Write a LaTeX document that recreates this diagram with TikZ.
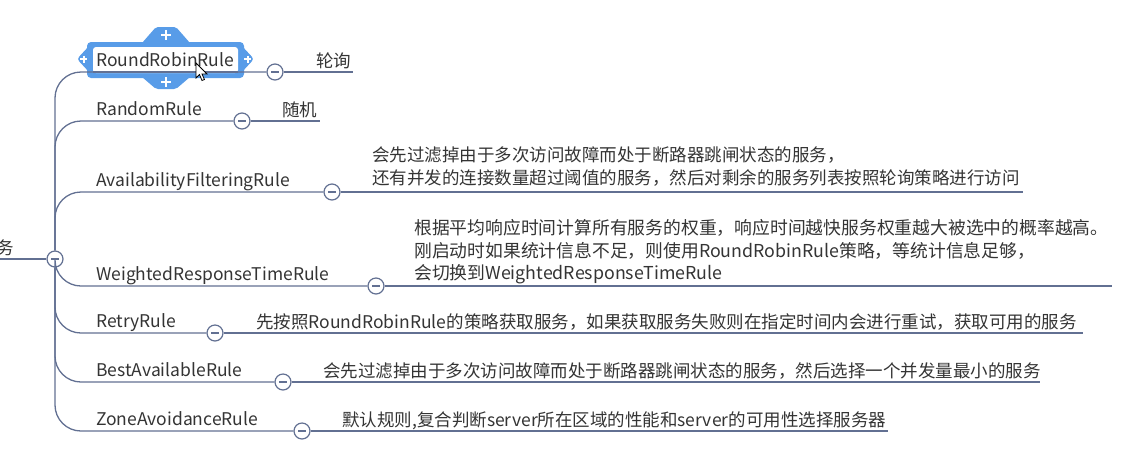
\documentclass[tikz,border=0pt]{standalone}
\usepackage{fontspec}
\setmainfont{Noto Sans CJK SC}
\usetikzlibrary{positioning}

\definecolor{linec}{RGB}{98,112,146}
\definecolor{txtc}{RGB}{52,52,52}
\definecolor{selc}{RGB}{88,156,232}

\newcommand{\rulefont}{\fontsize{17.5}{20}\selectfont}
\newcommand{\descfont}{\fontsize{17.5}{22.5}\selectfont}

\tikzset{
  branch/.style={linec, line width=1.3pt},
  rulename/.style={anchor=base west, inner sep=0pt, text=txtc, font=\rulefont},
  desc/.style={anchor=base west, inner sep=0pt, text=txtc, align=left, font=\descfont},
  collapse/.style={circle, draw=linec, fill=white, line width=1.2pt,
    minimum size=16pt, inner sep=0pt,
    path picture={\draw[linec, line width=1.2pt]
      ([xshift=-4pt]path picture bounding box.center) --
      ([xshift=4pt]path picture bounding box.center);}},
  plus/.style={white, line width=2pt}
}

\begin{document}
\begin{tikzpicture}[x=1pt, y=-1pt]
  \useasboundingbox (0,0) rectangle (1145,467);
  \clip (0,0) rectangle (1145,467);

  % Selection frame round the first rule
  \fill[selc, rounded corners=4pt] (87,42) rectangle (244,78);
  \fill[selc, rounded corners=2pt] (142,43) -- (156,27) -- (176,27) -- (190,43) -- cycle;
  \fill[selc, rounded corners=2pt] (142,77) -- (156,89) -- (176,89) -- (190,77) -- cycle;
  \fill[selc, rounded corners=3pt] (89,46) -- (77,59) -- (89,72) -- cycle;
  \fill[selc, rounded corners=3pt] (242,46) -- (254,59) -- (242,72) -- cycle;
  \fill[white, rounded corners=3pt] (93,47) rectangle (238,73);
  \draw[branch] (93,72) -- (238,72);
  \draw[plus] (161,35) -- (171,35) (166,30) -- (166,40);
  \draw[plus] (161,82) -- (171,82) (166,77) -- (166,87);
  \draw[plus] (80,59) -- (87,59) (83.5,55.5) -- (83.5,62.5);
  \draw[plus] (244,59) -- (251,59) (247.5,55.5) -- (247.5,62.5);

  % Root
  \node[anchor=base east, inner sep=0pt, text=txtc, font=\descfont] (root) at (14,254) {务};
  \coordinate (rootl) at (0,259);
  \node[collapse] (rootc) at (55,259) {};

  % Rules
  \node[rulename] (rr) at (96,66.5) {RoundRobinRule};
  \node[rulename] (rnd) at (96,115.5) {RandomRule};
  \node[rulename] (af) at (96,186.5) {AvailabilityFilteringRule};
  \node[rulename] (wrt) at (96,280.5) {WeightedResponseTimeRule};
  \node[rulename] (retry) at (96,327.5) {RetryRule};
  \node[rulename] (best) at (96,376.5) {BestAvailableRule};
  \node[rulename] (zone) at (96,425.5) {ZoneAvoidanceRule};

  \node[collapse] (rrc) at (275,72) {};
  \node[collapse] (rndc) at (242,121) {};
  \node[collapse] (afc) at (332,192) {};
  \node[collapse] (wrtc) at (376,286) {};
  \node[collapse] (retryc) at (215,333) {};
  \node[collapse] (bestc) at (283,382) {};
  \node[collapse] (zonec) at (302,431) {};

  % Descriptions (base = last line)
  \node[desc] (rrd) at (316,67) {轮询};
  \node[desc] (rndd) at (282,116) {随机};
  \node[desc] (afd) at (372,184) {会先过滤掉由于多次访问故障而处于断路器跳闸状态的服务，\\
    还有并发的连接数量超过阈值的服务，然后对剩余的服务列表按照轮询策略进行访问};
  \node[desc, font=\fontsize{17.8}{22.5}\selectfont] (wrtd) at (414,279.5) {根据平均响应时间计算所有服务的权重，响应时间越快服务权重越大被选中的概率越高。\\
    刚启动时如果统计信息不足，则使用RoundRobinRule策略，等统计信息足够，\\
    会切换到WeightedResponseTimeRule};
  \node[desc] (retryd) at (256,328) {先按照RoundRobinRule的策略获取服务，如果获取服务失败则在指定时间内会进行重试，获取可用的服务};
  \node[desc] (bestd) at (323,377) {会先过滤掉由于多次访问故障而处于断路器跳闸状态的服务，然后选择一个并发量最小的服务};
  \node[desc] (zoned) at (342,426) {默认规则,复合判断server所在区域的性能和server的可用性选择服务器};

  \coordinate (rre) at (353,72);
  \coordinate (rnde) at (320,121);
  \coordinate (afe) at (1023,192);
  \coordinate (wrte) at (1112,286);
  \coordinate (retrye) at (1083,333);
  \coordinate (beste) at (1040,382);
  \coordinate (zonee) at (888,431);

  % Connectors
  \begin{scope}[branch, rounded corners=26pt]
    \draw (rootl) -- (rootc);
    \draw (rootc) |- (rrc);
    \draw (rootc) |- (rndc);
    \draw (rootc) |- (afc);
    \draw (rootc) |- (wrtc);
    \draw (rootc) |- (retryc);
    \draw (rootc) |- (bestc);
    \draw (rootc) |- (zonec);
  \end{scope}
  \draw[branch] (rrc) -- (rre);
  \draw[branch] (rndc) -- (rnde);
  \draw[branch] (afc) -- (afe);
  \draw[branch] (wrtc) -- (wrte);
  \draw[branch] (retryc) -- (retrye);
  \draw[branch] (bestc) -- (beste);
  \draw[branch] (zonec) -- (zonee);

  % Mouse pointer
  \draw[fill=white, line width=0.8pt, shift={(196,63)}]
    (0,0) -- (0,15) -- (3.5,11.5) -- (6,17.5) -- (8.5,16.5) -- (6,11) -- (11,11) -- cycle;
\end{tikzpicture}
\end{document}
